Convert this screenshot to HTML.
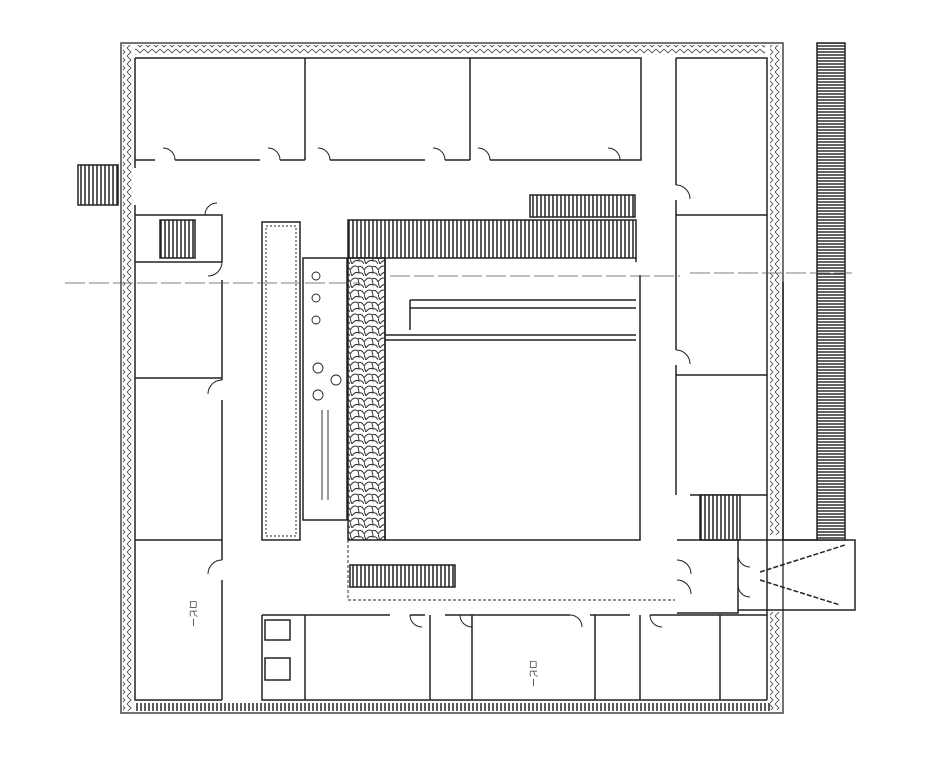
<!DOCTYPE html>
<html><head><meta charset="utf-8"><style>html,body{margin:0;padding:0;background:#fff}svg{display:block}</style></head><body>
<svg width="943" height="768" viewBox="0 0 943 768" xmlns="http://www.w3.org/2000/svg" font-family="Liberation Sans, sans-serif">
<defs>
<pattern id="vh" width="4" height="4" patternUnits="userSpaceOnUse"><rect width="4" height="4" fill="#fff"/><line x1="1" y1="0" x2="1" y2="4" stroke="#222" stroke-width="1.5"/></pattern>
<pattern id="hh" width="4" height="3" patternUnits="userSpaceOnUse"><rect width="4" height="3" fill="#fff"/><line x1="0" y1="1" x2="4" y2="1" stroke="#222" stroke-width="1.4"/></pattern>
<pattern id="zz" width="6" height="8" patternUnits="userSpaceOnUse"><path d="M1 0 L5 4 L1 8" fill="none" stroke="#555" stroke-width="0.9"/></pattern>
<pattern id="zh" width="8" height="6" patternUnits="userSpaceOnUse"><path d="M0 1 L4 5 L8 1" fill="none" stroke="#555" stroke-width="0.9"/></pattern>
<pattern id="cb" width="14" height="12" patternUnits="userSpaceOnUse"><path d="M0 6 Q4 0 8 3 Q12 1 14 6 M2 12 Q5 7 9 9 Q12 8 14 12 M8 3 Q9 7 9 9 M0 6 Q1 10 2 12" fill="none" stroke="#333" stroke-width="1"/></pattern>
</defs>
<g fill="none" stroke="#222" stroke-width="1.5">
<rect x="121" y="43" width="662" height="670" stroke="#444"/>
<rect x="123" y="45" width="10" height="666" fill="url(#zz)" stroke="none"/>
<rect x="770" y="45" width="11" height="490" fill="url(#zz)" stroke="none"/>
<rect x="770" y="612" width="11" height="98" fill="url(#zz)" stroke="none"/>
<rect x="135" y="45" width="630" height="10" fill="url(#zh)" stroke="none"/>
<rect x="135" y="703" width="635" height="8" fill="url(#vh)" stroke="none"/>
<path d="M135 58 H641 V160 H490 M470 160 H445 M425 160 H330 M305 160 H280 M260 160 H175 M155 160 H135"/>
<path d="M305 58 V160 M470 58 V160 M135 58 V168"/>
<path d="M676 58 H767 V700 M676 58 V185 M676 200 V350 M676 365 V495 M676 215 H767 M676 375 H767 M690 495 H767"/>
<g stroke-width="1">
<path d="M175 160 A12 12 0 0 0 163 148 M280 160 A12 12 0 0 0 268 148 M330 160 A12 12 0 0 0 318 148 M445 160 A12 12 0 0 0 433 148 M490 160 A12 12 0 0 0 478 148 M620 160 A12 12 0 0 0 608 148"/>
<path d="M676 185 A14 14 0 0 1 690 199 M676 350 A14 14 0 0 1 690 364 M222 380 A14 14 0 0 0 208 394 M222 560 A14 14 0 0 0 208 574 M222 262 A14 14 0 0 1 208 276 M205 215 A12 12 0 0 1 217 203"/>
<path d="M410 615 A12 12 0 0 0 422 627 M570 615 A12 12 0 0 1 582 627 M650 615 A12 12 0 0 0 662 627 M460 615 A12 12 0 0 0 472 627"/>
<path d="M677 560 A14 14 0 0 1 691 574 M677 580 A14 14 0 0 1 691 594 M738 555 A12 12 0 0 0 750 567 M738 585 A12 12 0 0 0 750 597"/>
</g>
<path d="M135 205 V700 H222 M135 215 H222 V262 M135 262 H222 M222 280 V380 M222 400 V560 M222 580 V700 M135 378 H222 M135 540 H222"/>
<rect x="160" y="220" width="35" height="38" fill="url(#vh)"/>
<rect x="78" y="165" width="40" height="40" fill="url(#vh)"/>
<rect x="262" y="222" width="38" height="318"/>
<rect x="266" y="226" width="30" height="310" stroke-dasharray="2 2" stroke-width="1"/>
<rect x="303" y="258" width="44" height="262"/>
<g stroke-width="0.9">
<circle cx="316" cy="276" r="4"/><circle cx="316" cy="298" r="4"/><circle cx="316" cy="320" r="4"/><circle cx="318" cy="368" r="5"/><circle cx="336" cy="380" r="5"/><circle cx="318" cy="395" r="5"/>
<path d="M322 410 V500 M328 410 V500"/>
</g>
<rect x="348" y="220" width="288" height="38" fill="url(#vh)"/>
<rect x="530" y="195" width="105" height="22" fill="url(#vh)"/>
<rect x="348" y="258" width="37" height="282" fill="url(#cb)"/>
<path d="M385 258 V540 H640 V275 M636 258 V262"/>
<path d="M385 340 H636 M410 300 H636 M410 308 H636 M410 300 V330 M385 335 H636"/>
<path d="M348 540 V600 H675" stroke-dasharray="3 2" stroke-width="0.9"/>
<rect x="350" y="565" width="105" height="22" fill="url(#vh)"/>
<path d="M262 615 H390 M410 615 H425 M445 615 H570 M590 615 H630 M650 615 H767 M262 615 V700 H767"/>
<path d="M305 615 V700 M430 615 V700 M472 615 V700 M595 615 V700 M640 615 V700 M720 615 V700"/>
<rect x="265" y="620" width="25" height="20"/><rect x="265" y="658" width="25" height="22"/>
<rect x="700" y="495" width="40" height="45" fill="url(#vh)"/>
<path d="M677 540 H738 V613 H677 M738 540 H855 V610 H738"/>
<path d="M760 572 L845 545 M760 580 L840 605" stroke-dasharray="5 2"/>
<rect x="817" y="43" width="28" height="497" fill="url(#hh)"/>
<path d="M783 282 V540 H817"/>
<path d="M65 283 H360 M390 276 H680 M690 273 H852" stroke-width="0.8" stroke-dasharray="20 4" stroke="#555"/>
</g>
<g font-size="9" fill="#333">
<text x="190" y="600" transform="rotate(90 190 600)">ロビー</text>
<text x="530" y="660" transform="rotate(90 530 660)">ロビー</text>
</g>
</svg>
</body></html>
